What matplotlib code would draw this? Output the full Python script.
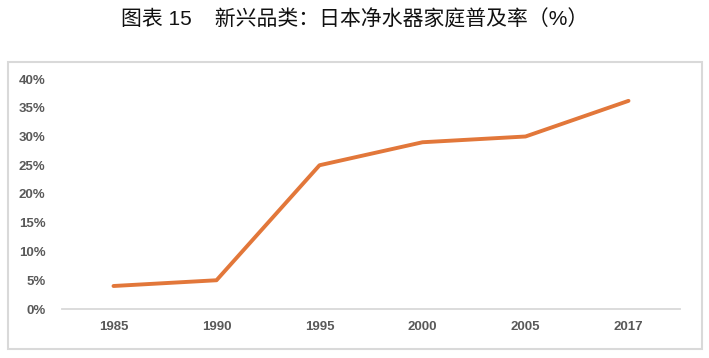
import matplotlib.pyplot as plt
from matplotlib.patches import Rectangle
from matplotlib.ticker import PercentFormatter

# 日本净水器家庭普及率
years = ['1985', '1990', '1995', '2000', '2005', '2017']
rate = [0.040, 0.050, 0.250, 0.290, 0.300, 0.362]
yticks = [0, 0.05, 0.10, 0.15, 0.20, 0.25, 0.30, 0.35, 0.40]

plt.rcParams['font.family'] = ['Liberation Sans', 'Noto Sans CJK SC', 'DejaVu Sans']

fig = plt.figure(figsize=(7.09, 3.58), dpi=100)
ax = fig.add_axes([62 / 709, 1 - 309 / 358, (680 - 62) / 709, (309 - 79) / 358])

# 外框
fig.patches.append(Rectangle((8 / 709, 1 - 349 / 358), 694 / 709, 287 / 358,
                             transform=fig.transFigure, fill=False,
                             edgecolor='#D9D9D9', linewidth=1.5))

fig.text(0.5, 1 - 20 / 358, '图表 15    新兴品类：日本净水器家庭普及率（%）',
         ha='center', va='center', fontsize=15, color='#111111', fontweight='medium',
         family=['Liberation Sans', 'Noto Sans CJK SC', 'DejaVu Sans'])

x = list(range(len(years)))
ax.plot(x, rate, color='#E2773A', linewidth=2.8, solid_capstyle='round')

ax.set_xlim(-0.5, len(years) - 0.5)
ax.set_ylim(0, 0.40)
ax.set_yticks(yticks)
ax.yaxis.set_major_formatter(PercentFormatter(1.0, decimals=0))
ax.set_xticks(x)
ax.set_xticklabels(years)

for s in ['top', 'right', 'left']:
    ax.spines[s].set_visible(False)
ax.spines['bottom'].set_color('#D9D9D9')
ax.spines['bottom'].set_linewidth(1.3)
ax.tick_params(length=0, labelsize=9.5, labelcolor='#595959')
ax.tick_params(axis='y', pad=12)
ax.tick_params(axis='x', pad=9)
for lab in ax.get_xticklabels() + ax.get_yticklabels():
    lab.set_fontweight('bold')

fig.savefig('out.png', dpi=100)
